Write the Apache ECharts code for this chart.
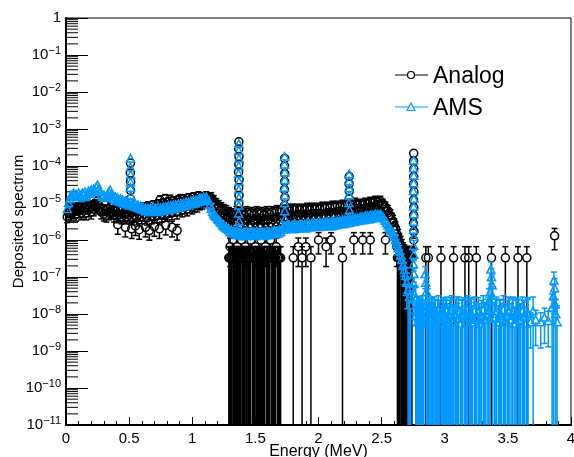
<!DOCTYPE html>
<html>
<head>
<meta charset="utf-8">
<title>Deposited spectrum</title>
<script src="https://cdn.jsdelivr.net/npm/echarts@6/dist/echarts.min.js"></script>
<style>
  html, body { margin: 0; padding: 0; background: #fff; }
  #chart { width: 574px; height: 457px; }
</style>
</head>
<body>
<div id="chart"></div>
<script>
// Bin centres (MeV) of the continuum part of both spectra
const energy = [
  0.01, 0.02, 0.03, 0.04, 0.05, 0.06, 0.07, 0.08, 0.09, 0.10,
  0.11, 0.12, 0.13, 0.14, 0.15, 0.16, 0.17, 0.18, 0.19, 0.20,
  0.21, 0.22, 0.23, 0.24, 0.25, 0.26, 0.27, 0.28, 0.29, 0.30,
  0.31, 0.32, 0.33, 0.34, 0.35, 0.36, 0.37, 0.38, 0.39, 0.40,
  0.41, 0.42, 0.43, 0.44, 0.45, 0.46, 0.47, 0.48, 0.49, 0.50,
  0.51, 0.52, 0.53, 0.54, 0.55, 0.56, 0.57, 0.58, 0.59, 0.60,
  0.61, 0.62, 0.63, 0.64, 0.65, 0.66, 0.67, 0.68, 0.69, 0.70,
  0.71, 0.72, 0.73, 0.74, 0.75, 0.76, 0.77, 0.78, 0.79, 0.80,
  0.81, 0.82, 0.83, 0.84, 0.85, 0.86, 0.87, 0.88, 0.89, 0.90,
  0.91, 0.92, 0.93, 0.94, 0.95, 0.96, 0.97, 0.98, 0.99, 1.00,
  1.01, 1.02, 1.03, 1.04, 1.05, 1.06, 1.07, 1.08, 1.09, 1.10,
  1.11, 1.12, 1.13, 1.14, 1.15, 1.16, 1.17, 1.18, 1.19, 1.20,
  1.21, 1.22, 1.23, 1.24, 1.25, 1.26, 1.27, 1.28, 1.29, 1.30,
  1.31, 1.32, 1.33, 1.34, 1.35, 1.36, 1.37, 1.38, 1.39, 1.40,
  1.41, 1.42, 1.43, 1.44, 1.45, 1.46, 1.47, 1.48, 1.49, 1.50,
  1.51, 1.52, 1.53, 1.54, 1.55, 1.56, 1.57, 1.58, 1.59, 1.60,
  1.61, 1.62, 1.63, 1.64, 1.65, 1.66, 1.67, 1.68, 1.69, 1.70,
  1.71, 1.72, 1.73, 1.74, 1.75, 1.76, 1.77, 1.78, 1.79, 1.80,
  1.81, 1.82, 1.83, 1.84, 1.85, 1.86, 1.87, 1.88, 1.89, 1.90,
  1.91, 1.92, 1.93, 1.94, 1.95, 1.96, 1.97, 1.98, 1.99, 2.00,
  2.01, 2.02, 2.03, 2.04, 2.05, 2.06, 2.07, 2.08, 2.09, 2.10,
  2.11, 2.12, 2.13, 2.14, 2.15, 2.16, 2.17, 2.18, 2.19, 2.20,
  2.21, 2.22, 2.23, 2.24, 2.25, 2.26, 2.27, 2.28, 2.29, 2.30,
  2.31, 2.32, 2.33, 2.34, 2.35, 2.36, 2.37, 2.38, 2.39, 2.40,
  2.41, 2.42, 2.43, 2.44, 2.45, 2.46, 2.47, 2.48, 2.49, 2.50,
  2.51, 2.52, 2.53, 2.54, 2.55, 2.56, 2.57, 2.58, 2.59, 2.60,
  2.61, 2.62, 2.63, 2.64, 2.65, 2.66, 2.67, 2.68, 2.69, 2.70,
  2.71, 2.72, 2.73
];

// Analog simulation: deposited spectrum per bin
const analogSpectrum = [
  4.2e-6, 5.4e-6, 6.5e-6, 5.0e-6, 7.3e-6, 5.7e-6, 6.9e-6, 5.0e-6, 7.8e-6, 6.1e-6,
  7.3e-6, 5.4e-6, 7.8e-6, 6.1e-6, 7.3e-6, 5.4e-6, 8.3e-6, 6.5e-6, 7.8e-6, 5.7e-6,
  8.8e-6, 6.9e-6, 9.4e-6, 7.8e-6, 1.13e-5, 8.8e-6, 7.3e-6, 5.7e-6, 6.9e-6, 5.0e-6,
  6.5e-6, 4.7e-6, 6.9e-6, 5.4e-6, 7.8e-6, 5.7e-6, 6.5e-6, 4.7e-6, 6.1e-6, 4.5e-6,
  6.5e-6, 4.7e-6, 6.1e-6, 4.2e-6, 6.5e-6, 4.7e-6, 5.7e-6, 4.2e-6, 6.5e-6, 4.7e-6,
  6.1e-6, 4.2e-6, 6.9e-6, 4.7e-6, 6.5e-6, 3.9e-6, 7.3e-6, 5.0e-6, 6.9e-6, 4.2e-6,
  7.8e-6, 5.0e-6, 7.3e-6, 3.9e-6, 8.3e-6, 5.4e-6, 7.3e-6, 4.2e-6, 8.8e-6, 5.4e-6,
  7.8e-6, 4.5e-6, 9.4e-6, 5.7e-6, 8.3e-6, 4.7e-6, 1.0e-5, 6.1e-6, 8.8e-6, 5.0e-6,
  1.06e-5, 6.5e-6, 9.4e-6, 5.4e-6, 1.13e-5, 6.9e-6, 1.0e-5, 5.7e-6, 1.2e-5, 7.3e-6,
  1.06e-5, 6.5e-6, 1.28e-5, 7.8e-6, 1.13e-5, 6.9e-6, 1.36e-5, 8.3e-6, 1.2e-5, 7.8e-6,
  1.45e-5, 8.8e-6, 1.28e-5, 8.8e-6, 1.55e-5, 1.0e-5, 1.45e-5, 1.06e-5, 1.45e-5, 1.2e-5,
  1.55e-5, 1.28e-5, 1.45e-5, 1.2e-5, 1.36e-5, 1.0e-5, 1.13e-5, 8.3e-6, 9.4e-6, 6.9e-6,
  8.3e-6, 6.1e-6, 7.3e-6, 5.4e-6, 6.5e-6, 4.7e-6, 6.1e-6, 4.2e-6, 5.4e-6, 3.7e-6,
  5.0e-6, 3.3e-6, 4.7e-6, 2.9e-6, 5.7e-6, 3.5e-6, 4.5e-6, 2.7e-6, 5.4e-6, 3.3e-6,
  4.7e-6, 2.9e-6, 5.7e-6, 3.5e-6, 5.0e-6, 2.7e-6, 5.4e-6, 3.3e-6, 4.7e-6, 2.9e-6,
  5.7e-6, 3.5e-6, 5.0e-6, 2.7e-6, 5.4e-6, 3.3e-6, 4.7e-6, 2.9e-6, 5.7e-6, 3.5e-6,
  5.0e-6, 2.9e-6, 5.7e-6, 3.5e-6, 5.4e-6, 3.1e-6, 6.1e-6, 3.7e-6, 5.7e-6, 3.3e-6,
  6.1e-6, 3.9e-6, 6.5e-6, 4.2e-6, 6.5e-6, 3.9e-6, 6.1e-6, 4.5e-6, 6.9e-6, 3.9e-6,
  6.5e-6, 4.2e-6, 6.9e-6, 4.5e-6, 6.5e-6, 3.9e-6, 6.9e-6, 4.5e-6, 6.5e-6, 4.2e-6,
  7.3e-6, 4.5e-6, 6.5e-6, 4.2e-6, 7.3e-6, 4.7e-6, 6.9e-6, 4.2e-6, 7.3e-6, 4.7e-6,
  6.9e-6, 4.5e-6, 7.8e-6, 4.7e-6, 7.3e-6, 4.5e-6, 7.8e-6, 5.0e-6, 7.3e-6, 4.7e-6,
  8.3e-6, 5.0e-6, 7.8e-6, 4.7e-6, 8.3e-6, 5.4e-6, 7.8e-6, 5.0e-6, 8.8e-6, 5.4e-6,
  8.3e-6, 5.7e-6, 8.8e-6, 5.4e-6, 9.4e-6, 6.1e-6, 8.8e-6, 5.7e-6, 1.0e-5, 6.5e-6,
  8.8e-6, 6.1e-6, 9.4e-6, 6.5e-6, 8.8e-6, 6.1e-6, 1.0e-5, 6.9e-6, 9.4e-6, 6.5e-6,
  1.06e-5, 7.3e-6, 1.0e-5, 6.9e-6, 1.13e-5, 7.8e-6, 1.06e-5, 8.3e-6, 1.13e-5, 8.8e-6,
  9.4e-6, 7.8e-6, 7.8e-6, 6.1e-6, 6.1e-6, 4.7e-6, 4.5e-6, 3.5e-6, 3.1e-6, 2.4e-6,
  2.0e-6, 1.45e-6, 1.2e-6, 8.8e-7, 6.9e-7, 5.4e-7, 4.2e-7, 3.7e-7, 3.3e-7, 3.3e-7,
  3.3e-7, 3.3e-7, 3.3e-7
];

// Relative statistical uncertainty of each analog bin
const analogRelErr = [
  0.30, 0.35, 0.30, 0.35, 0.30, 0.35, 0.30, 0.35, 0.30, 0.35,
  0.30, 0.35, 0.30, 0.35, 0.30, 0.35, 0.30, 0.35, 0.30, 0.35,
  0.30, 0.35, 0.30, 0.35, 0.30, 0.35, 0.30, 0.35, 0.30, 0.35,
  0.30, 0.35, 0.30, 0.35, 0.30, 0.35, 0.30, 0.35, 0.30, 0.35,
  0.30, 0.35, 0.30, 0.35, 0.30, 0.35, 0.30, 0.35, 0.30, 0.35,
  0.30, 0.35, 0.30, 0.35, 0.30, 0.35, 0.30, 0.35, 0.30, 0.35,
  0.30, 0.35, 0.30, 0.35, 0.30, 0.35, 0.30, 0.35, 0.30, 0.35,
  0.30, 0.35, 0.30, 0.35, 0.30, 0.35, 0.30, 0.35, 0.30, 0.35,
  0.30, 0.35, 0.30, 0.35, 0.30, 0.35, 0.30, 0.35, 0.30, 0.35,
  0.30, 0.35, 0.30, 0.35, 0.30, 0.35, 0.30, 0.35, 0.30, 0.35,
  0.30, 0.35, 0.30, 0.35, 0.30, 0.35, 0.30, 0.35, 0.30, 0.35,
  0.30, 0.35, 0.30, 0.40, 0.40, 0.40, 0.40, 0.40, 0.40, 0.40,
  0.40, 0.45, 0.40, 0.45, 0.40, 0.45, 0.40, 0.45, 0.40, 0.45,
  0.40, 0.45, 0.40, 0.45, 0.40, 0.45, 0.40, 0.45, 0.40, 0.45,
  0.40, 0.45, 0.40, 0.45, 0.40, 0.45, 0.40, 0.45, 0.40, 0.45,
  0.40, 0.45, 0.40, 0.45, 0.40, 0.45, 0.40, 0.45, 0.40, 0.45,
  0.40, 0.45, 0.40, 0.45, 0.40, 0.45, 0.40, 0.45, 0.40, 0.45,
  0.35, 0.40, 0.35, 0.40, 0.35, 0.40, 0.35, 0.40, 0.35, 0.40,
  0.35, 0.40, 0.35, 0.40, 0.35, 0.40, 0.35, 0.40, 0.35, 0.40,
  0.35, 0.40, 0.35, 0.40, 0.35, 0.40, 0.35, 0.40, 0.35, 0.40,
  0.35, 0.40, 0.35, 0.40, 0.35, 0.40, 0.35, 0.40, 0.35, 0.40,
  0.35, 0.40, 0.35, 0.40, 0.35, 0.40, 0.35, 0.40, 0.35, 0.40,
  0.35, 0.40, 0.35, 0.40, 0.35, 0.40, 0.35, 0.40, 0.35, 0.40,
  0.35, 0.40, 0.35, 0.40, 0.35, 0.40, 0.35, 0.40, 0.35, 0.40,
  0.35, 0.40, 0.35, 0.40, 0.35, 0.40, 0.35, 0.40, 0.35, 0.40,
  0.35, 0.40, 0.35, 0.40, 0.40, 0.45, 0.45, 0.50, 0.50, 0.55,
  0.55, 0.60, 0.60, 0.70, 0.80, 0.90, 1.00, 1.00, 1.00, 1.00,
  1.00, 1.00, 1.00
];

// AMS simulation: deposited spectrum per bin
const amsSpectrum = [
  6.9e-6, 1.0e-5, 1.28e-5, 1.64e-5, 1.45e-5, 1.86e-5, 1.55e-5, 1.75e-5, 1.45e-5, 1.86e-5,
  1.64e-5, 1.45e-5, 1.86e-5, 1.64e-5, 1.98e-5, 1.55e-5, 1.86e-5, 2.11e-5, 1.75e-5, 2.25e-5,
  1.98e-5, 2.39e-5, 2.11e-5, 2.71e-5, 3.06e-5, 2.39e-5, 1.98e-5, 1.64e-5, 1.45e-5, 1.64e-5,
  1.36e-5, 1.55e-5, 1.75e-5, 1.98e-5, 2.25e-5, 1.75e-5, 1.45e-5, 1.28e-5, 1.45e-5, 1.2e-5,
  1.36e-5, 1.13e-5, 1.28e-5, 1.06e-5, 1.2e-5, 1.0e-5, 1.13e-5, 9.4e-6, 1.06e-5, 9.4e-6,
  1.06e-5, 8.8e-6, 1.0e-5, 8.3e-6, 9.4e-6, 7.8e-6, 8.8e-6, 7.3e-6, 8.3e-6, 6.9e-6,
  7.8e-6, 6.5e-6, 7.3e-6, 6.1e-6, 7.3e-6, 6.1e-6, 7.3e-6, 6.5e-6, 7.8e-6, 6.1e-6,
  7.3e-6, 6.5e-6, 7.8e-6, 6.1e-6, 7.3e-6, 6.5e-6, 7.8e-6, 6.5e-6, 7.8e-6, 6.9e-6,
  8.3e-6, 6.9e-6, 8.3e-6, 7.3e-6, 8.8e-6, 7.3e-6, 8.8e-6, 7.8e-6, 9.4e-6, 7.8e-6,
  9.4e-6, 8.3e-6, 1.0e-5, 8.8e-6, 1.06e-5, 8.8e-6, 1.06e-5, 9.4e-6, 1.13e-5, 1.0e-5,
  1.2e-5, 1.0e-5, 1.2e-5, 1.06e-5, 1.28e-5, 1.13e-5, 1.36e-5, 1.2e-5, 1.45e-5, 1.28e-5,
  1.45e-5, 1.28e-5, 1.13e-5, 8.8e-6, 6.9e-6, 5.7e-6, 5.0e-6, 4.5e-6, 4.2e-6, 3.7e-6,
  3.5e-6, 3.1e-6, 2.9e-6, 2.5e-6, 2.4e-6, 2.2e-6, 2.1e-6, 2.0e-6, 1.86e-6, 1.64e-6,
  1.86e-6, 1.55e-6, 1.75e-6, 1.45e-6, 1.75e-6, 1.45e-6, 1.64e-6, 1.36e-6, 1.64e-6, 1.36e-6,
  1.64e-6, 1.45e-6, 1.75e-6, 1.36e-6, 1.64e-6, 1.45e-6, 1.75e-6, 1.36e-6, 1.64e-6, 1.45e-6,
  1.75e-6, 1.36e-6, 1.64e-6, 1.45e-6, 1.75e-6, 1.45e-6, 1.64e-6, 1.36e-6, 1.75e-6, 1.45e-6,
  1.64e-6, 1.45e-6, 1.75e-6, 1.55e-6, 1.86e-6, 1.55e-6, 1.75e-6, 1.55e-6, 1.86e-6, 1.64e-6,
  2.0e-6, 2.1e-6, 2.4e-6, 2.1e-6, 2.5e-6, 2.1e-6, 2.5e-6, 2.1e-6, 2.5e-6, 2.2e-6,
  2.7e-6, 2.1e-6, 2.5e-6, 2.2e-6, 2.7e-6, 2.2e-6, 2.7e-6, 2.2e-6, 2.7e-6, 2.4e-6,
  2.9e-6, 2.2e-6, 2.7e-6, 2.4e-6, 2.9e-6, 2.4e-6, 2.9e-6, 2.4e-6, 2.9e-6, 2.5e-6,
  3.1e-6, 2.4e-6, 2.9e-6, 2.5e-6, 3.1e-6, 2.5e-6, 3.1e-6, 2.5e-6, 3.1e-6, 2.7e-6,
  3.3e-6, 2.5e-6, 3.1e-6, 2.7e-6, 3.3e-6, 2.7e-6, 3.3e-6, 2.9e-6, 3.5e-6, 2.9e-6,
  3.5e-6, 2.9e-6, 3.5e-6, 3.1e-6, 3.7e-6, 3.1e-6, 3.7e-6, 3.3e-6, 3.9e-6, 3.3e-6,
  3.9e-6, 3.5e-6, 4.2e-6, 3.5e-6, 4.2e-6, 3.7e-6, 4.5e-6, 3.7e-6, 4.5e-6, 3.9e-6,
  4.7e-6, 3.9e-6, 4.7e-6, 4.2e-6, 5.0e-6, 4.2e-6, 5.0e-6, 4.5e-6, 5.0e-6, 4.5e-6,
  4.2e-6, 3.7e-6, 3.3e-6, 2.9e-6, 2.5e-6, 2.2e-6, 2.0e-6, 1.75e-6, 1.45e-6, 1.2e-6,
  1.0e-6, 7.6e-7, 6.1e-7, 5.0e-7, 3.9e-7, 2.9e-7, 2.1e-7, 1.55e-7, 1.06e-7, 7.0e-8,
  4.5e-8, 2.9e-8, 1.75e-8
];

// Relative statistical uncertainty of each AMS bin
const amsRelErr = [
  0.20, 0.25, 0.20, 0.25, 0.20, 0.25, 0.20, 0.25, 0.20, 0.25,
  0.20, 0.25, 0.20, 0.25, 0.20, 0.25, 0.20, 0.25, 0.20, 0.25,
  0.20, 0.25, 0.20, 0.25, 0.20, 0.25, 0.20, 0.25, 0.20, 0.25,
  0.20, 0.25, 0.20, 0.25, 0.20, 0.25, 0.20, 0.25, 0.20, 0.25,
  0.20, 0.25, 0.20, 0.25, 0.20, 0.25, 0.20, 0.25, 0.20, 0.25,
  0.20, 0.25, 0.20, 0.25, 0.20, 0.25, 0.20, 0.25, 0.20, 0.25,
  0.20, 0.25, 0.20, 0.25, 0.20, 0.25, 0.20, 0.25, 0.20, 0.25,
  0.20, 0.25, 0.20, 0.25, 0.20, 0.25, 0.20, 0.25, 0.20, 0.25,
  0.20, 0.25, 0.20, 0.25, 0.20, 0.25, 0.20, 0.25, 0.20, 0.25,
  0.20, 0.25, 0.20, 0.25, 0.20, 0.25, 0.20, 0.25, 0.20, 0.25,
  0.20, 0.25, 0.20, 0.25, 0.20, 0.25, 0.20, 0.25, 0.20, 0.25,
  0.20, 0.25, 0.20, 0.25, 0.20, 0.25, 0.20, 0.25, 0.20, 0.25,
  0.20, 0.25, 0.20, 0.25, 0.20, 0.25, 0.20, 0.25, 0.20, 0.25,
  0.20, 0.25, 0.20, 0.25, 0.20, 0.25, 0.20, 0.25, 0.20, 0.25,
  0.20, 0.25, 0.20, 0.25, 0.20, 0.25, 0.20, 0.25, 0.20, 0.25,
  0.20, 0.25, 0.20, 0.25, 0.20, 0.25, 0.20, 0.25, 0.20, 0.25,
  0.20, 0.25, 0.20, 0.25, 0.20, 0.25, 0.20, 0.25, 0.20, 0.25,
  0.20, 0.25, 0.20, 0.25, 0.20, 0.25, 0.20, 0.25, 0.20, 0.25,
  0.20, 0.25, 0.20, 0.25, 0.20, 0.25, 0.20, 0.25, 0.20, 0.25,
  0.20, 0.25, 0.20, 0.25, 0.20, 0.25, 0.20, 0.25, 0.20, 0.25,
  0.20, 0.25, 0.20, 0.25, 0.20, 0.25, 0.20, 0.25, 0.20, 0.25,
  0.20, 0.25, 0.20, 0.25, 0.20, 0.25, 0.20, 0.25, 0.20, 0.25,
  0.20, 0.25, 0.20, 0.25, 0.20, 0.25, 0.20, 0.25, 0.20, 0.25,
  0.20, 0.25, 0.20, 0.25, 0.20, 0.25, 0.20, 0.25, 0.20, 0.25,
  0.20, 0.25, 0.20, 0.25, 0.20, 0.25, 0.20, 0.25, 0.20, 0.25,
  0.20, 0.25, 0.20, 0.25, 0.20, 0.25, 0.25, 0.25, 0.30, 0.30,
  0.30, 0.35, 0.35, 0.40, 0.40, 0.45, 0.50, 0.60, 0.70, 0.80,
  1.00, 1.20, 1.40
];

// Sparsely populated analog bins: [energy, value, relative error]
const analogSparse = [
  [0.41, 2.6e-6, 0.45], [0.47, 2.2e-6, 0.45], [0.52, 2.0e-6, 0.45], [0.55, 2.4e-6, 0.45],
  [0.58, 1.9e-6, 0.45], [0.63, 2.2e-6, 0.45], [0.66, 1.8e-6, 0.45], [0.70, 2.3e-6, 0.45],
  [0.74, 2.0e-6, 0.45], [0.79, 2.5e-6, 0.45], [0.84, 2.2e-6, 0.45], [0.88, 1.8e-6, 0.45],
  [0.745, 1.2e-5, 0.3], [0.785, 1.3e-5, 0.3], [0.825, 1.25e-5, 0.3], [0.905, 1.3e-5, 0.3],
  [1.29, 3.3e-7, 1], [1.295, 3.3e-7, 1], [1.30, 6.6e-7, 0.71], [1.305, 3.3e-7, 1],
  [1.31, 3.3e-7, 1], [1.315, 3.3e-7, 1], [1.32, 1.0e-6, 0.58], [1.325, 3.3e-7, 1],
  [1.33, 3.3e-7, 1], [1.335, 3.3e-7, 1], [1.345, 3.3e-7, 1], [1.35, 3.3e-7, 1],
  [1.355, 6.6e-7, 0.71], [1.36, 3.3e-7, 1], [1.365, 3.3e-7, 1], [1.375, 3.3e-7, 1],
  [1.38, 3.3e-7, 1], [1.385, 3.3e-7, 1], [1.39, 1.0e-6, 0.58], [1.395, 3.3e-7, 1],
  [1.40, 3.3e-7, 1], [1.405, 3.3e-7, 1], [1.415, 3.3e-7, 1], [1.42, 6.6e-7, 0.71],
  [1.425, 3.3e-7, 1], [1.43, 3.3e-7, 1], [1.435, 3.3e-7, 1], [1.445, 3.3e-7, 1],
  [1.455, 3.3e-7, 1], [1.46, 3.3e-7, 1], [1.465, 1.0e-6, 0.58], [1.475, 3.3e-7, 1],
  [1.48, 3.3e-7, 1], [1.485, 3.3e-7, 1], [1.49, 3.3e-7, 1], [1.495, 3.3e-7, 1],
  [1.50, 6.6e-7, 0.71], [1.505, 3.3e-7, 1], [1.51, 3.3e-7, 1], [1.515, 3.3e-7, 1],
  [1.525, 3.3e-7, 1], [1.53, 3.3e-7, 1], [1.535, 3.3e-7, 1], [1.54, 3.3e-7, 1],
  [1.545, 1.0e-6, 0.58], [1.55, 3.3e-7, 1], [1.555, 3.3e-7, 1], [1.565, 3.3e-7, 1],
  [1.57, 3.3e-7, 1], [1.575, 3.3e-7, 1], [1.58, 6.6e-7, 0.71], [1.59, 3.3e-7, 1],
  [1.595, 3.3e-7, 1], [1.60, 3.3e-7, 1], [1.605, 3.3e-7, 1], [1.61, 3.3e-7, 1],
  [1.615, 3.3e-7, 1], [1.62, 1.0e-6, 0.58], [1.63, 3.3e-7, 1], [1.635, 3.3e-7, 1],
  [1.645, 3.3e-7, 1], [1.65, 3.3e-7, 1], [1.655, 3.3e-7, 1], [1.66, 3.3e-7, 1],
  [1.665, 6.6e-7, 0.71], [1.675, 3.3e-7, 1], [1.685, 3.3e-7, 1], [1.69, 3.3e-7, 1],
  [1.70, 3.3e-7, 1],
  [1.80, 3.3e-7, 1], [1.84, 6.6e-7, 0.71], [1.87, 3.3e-7, 1], [1.90, 6.6e-7, 0.71],
  [1.94, 3.3e-7, 1], [2.00, 1.0e-6, 0.58], [2.06, 6.6e-7, 0.71], [2.10, 1.0e-6, 0.58],
  [2.19, 3.3e-7, 1], [2.28, 1.0e-6, 0.58], [2.35, 1.0e-6, 0.58], [2.41, 1.0e-6, 0.58],
  [2.53, 1.0e-6, 0.58],
  [2.62, 6.6e-7, 0.71], [2.625, 3.3e-7, 1], [2.635, 3.3e-7, 1], [2.64, 3.3e-7, 1],
  [2.645, 3.3e-7, 1], [2.655, 3.3e-7, 1], [2.66, 3.3e-7, 1], [2.665, 3.3e-7, 1],
  [2.675, 3.3e-7, 1], [2.685, 3.3e-7, 1], [2.695, 3.3e-7, 1], [2.705, 3.3e-7, 1],
  [2.715, 3.3e-7, 1], [2.725, 3.3e-7, 1], [2.735, 3.3e-7, 1], [2.74, 3.3e-7, 1],
  [2.85, 3.3e-7, 1], [2.87, 3.3e-7, 1], [2.97, 3.3e-7, 1], [3.07, 3.3e-7, 1],
  [3.16, 3.3e-7, 1], [3.19, 3.3e-7, 1], [3.25, 3.3e-7, 1], [3.37, 3.3e-7, 1],
  [3.48, 3.3e-7, 1], [3.58, 3.3e-7, 1], [3.65, 3.3e-7, 1], [3.87, 1.3e-6, 0.58]
];

// Analog full-energy and escape peak bins: [energy, value, relative error]
const analogPeaks = [
  [0.511, 1.2e-4, 0.15], [0.510, 6.5e-5, 0.15], [0.512, 3.8e-5, 0.15], [0.511, 2.2e-5, 0.15], [0.510, 1.3e-5, 0.2],
  [1.369, 4.5e-4, 0.08], [1.368, 2.9e-4, 0.1], [1.370, 1.8e-4, 0.1], [1.369, 1.1e-4, 0.12], [1.367, 6.8e-5, 0.12],
  [1.371, 4.2e-5, 0.15], [1.368, 2.6e-5, 0.15], [1.370, 1.6e-5, 0.2], [1.369, 9.5e-6, 0.25], [1.367, 5.8e-6, 0.3],
  [1.732, 1.6e-4, 0.1], [1.731, 1.0e-4, 0.12], [1.733, 6.2e-5, 0.12], [1.732, 3.8e-5, 0.15], [1.730, 2.3e-5, 0.15],
  [1.734, 1.4e-5, 0.2], [1.731, 8.5e-6, 0.25],
  [2.243, 5.2e-5, 0.15], [2.242, 3.3e-5, 0.15], [2.244, 2.1e-5, 0.2], [2.243, 1.3e-5, 0.2], [2.241, 8.5e-6, 0.25],
  [2.754, 2.2e-4, 0.1], [2.753, 1.35e-4, 0.1], [2.755, 8.4e-5, 0.12], [2.754, 5.2e-5, 0.12], [2.752, 3.2e-5, 0.15],
  [2.756, 2.0e-5, 0.15], [2.753, 1.2e-5, 0.2], [2.755, 7.5e-6, 0.2], [2.754, 4.6e-6, 0.25], [2.752, 2.8e-6, 0.3],
  [2.756, 1.7e-6, 0.35], [2.754, 1.0e-6, 0.4]
];

// AMS full-energy and escape peak bins: [energy, value, relative error]
const amsPeaks = [
  [0.511, 1.6e-4, 0.06], [0.510, 9.3e-5, 0.06], [0.512, 5.8e-5, 0.08], [0.511, 3.6e-5, 0.08], [0.510, 2.6e-5, 0.1],
  [0.512, 1.6e-5, 0.1],
  [1.369, 4.0e-4, 0.05], [1.368, 2.6e-4, 0.05], [1.370, 1.6e-4, 0.06], [1.369, 1.0e-4, 0.06], [1.367, 6.2e-5, 0.08],
  [1.371, 3.8e-5, 0.08], [1.368, 2.3e-5, 0.1], [1.370, 1.4e-5, 0.1], [1.369, 8.5e-6, 0.12], [1.367, 5.2e-6, 0.12],
  [1.371, 3.2e-6, 0.15], [1.368, 2.2e-6, 0.15],
  [1.732, 1.8e-4, 0.06], [1.731, 1.1e-4, 0.06], [1.733, 6.8e-5, 0.08], [1.732, 4.2e-5, 0.08], [1.730, 2.6e-5, 0.1],
  [1.734, 1.6e-5, 0.1], [1.731, 9.8e-6, 0.12], [1.733, 6.0e-6, 0.12], [1.732, 3.7e-6, 0.15],
  [2.243, 6.0e-5, 0.08], [2.242, 3.9e-5, 0.08], [2.244, 2.5e-5, 0.1], [2.243, 1.6e-5, 0.1], [2.241, 1.0e-5, 0.12],
  [2.245, 6.5e-6, 0.12], [2.242, 4.2e-6, 0.15],
  [2.754, 1.4e-4, 0.06], [2.753, 8.8e-5, 0.06], [2.755, 5.5e-5, 0.08], [2.754, 3.4e-5, 0.08], [2.752, 2.1e-5, 0.1],
  [2.756, 1.3e-5, 0.1], [2.753, 8.0e-6, 0.12], [2.755, 5.0e-6, 0.12], [2.754, 3.1e-6, 0.15], [2.752, 1.9e-6, 0.15],
  [2.756, 1.2e-6, 0.2], [2.754, 7.0e-7, 0.25], [2.755, 4.0e-7, 0.3], [2.753, 2.2e-7, 0.35], [2.756, 1.2e-7, 0.4],
  [2.754, 6.5e-8, 0.5], [2.757, 3.5e-8, 0.7]
];

// AMS bins above the 2.754 MeV line: [energy, value, relative error]
const amsTail = [
  [2.77, 2.5e-8, 1.2], [2.775, 9e-9, 1.6], [2.78, 1.2e-8, 1.5], [2.785, 6e-9, 1.8], [2.79, 8e-9, 1.6],
  [2.795, 1.2e-8, 1.4], [2.80, 1.1e-8, 1.5], [2.805, 7e-9, 1.7], [2.81, 6e-9, 1.8], [2.815, 1.0e-8, 1.5],
  [2.82, 9e-9, 1.6], [2.825, 1.3e-8, 1.4], [2.83, 5.5e-9, 1.8], [2.835, 8e-9, 1.6],
  [2.845, 1.2e-7, 0.6], [2.85, 7e-8, 0.8], [2.855, 4e-8, 1.0], [2.865, 2.2e-8, 1.2], [2.875, 1.0e-8, 1.5],
  [2.885, 8e-9, 1.6], [2.89, 6.5e-9, 1.7], [2.895, 1.1e-8, 1.5], [2.90, 1.2e-8, 1.4], [2.905, 6e-9, 1.8],
  [2.91, 7e-9, 1.7], [2.915, 1.2e-8, 1.4], [2.925, 1.0e-8, 1.5], [2.935, 5.5e-9, 1.8], [2.945, 9e-9, 1.6],
  [2.95, 1.3e-8, 1.4], [2.96, 8e-9, 1.6], [2.975, 6e-9, 1.8], [2.985, 1.0e-8, 1.5], [2.99, 1.1e-8, 1.5],
  [3.00, 7e-9, 1.7], [3.005, 9e-9, 1.6], [3.015, 1.2e-8, 1.4], [3.025, 7e-9, 1.7], [3.03, 5.5e-9, 1.8],
  [3.04, 9e-9, 1.6], [3.045, 1.1e-8, 1.5], [3.055, 1.3e-8, 1.4], [3.065, 6e-9, 1.8], [3.07, 6.5e-9, 1.7],
  [3.085, 1.0e-8, 1.5], [3.095, 1.2e-8, 1.4], [3.10, 7.5e-9, 1.6], [3.11, 1.2e-8, 1.4], [3.125, 5.5e-9, 1.8],
  [3.135, 1.0e-8, 1.5], [3.14, 9e-9, 1.6], [3.155, 1.1e-8, 1.5], [3.165, 6e-9, 1.8], [3.175, 9e-9, 1.6],
  [3.18, 1.3e-8, 1.4], [3.195, 8e-9, 1.6], [3.205, 1.1e-8, 1.5], [3.21, 1.0e-8, 1.5], [3.22, 6e-9, 1.8],
  [3.235, 1.2e-8, 1.4], [3.245, 8e-9, 1.6], [3.25, 7e-9, 1.7], [3.265, 1.1e-8, 1.5], [3.275, 7e-9, 1.7],
  [3.28, 5.5e-9, 1.8], [3.29, 9e-9, 1.6], [3.305, 1.3e-8, 1.4], [3.315, 8e-9, 1.6], [3.32, 7e-9, 1.7],
  [3.335, 1.0e-8, 1.5], [3.345, 1.2e-8, 1.4], [3.35, 2.2e-8, 1.2],
  [3.36, 4e-8, 1.0], [3.365, 1.6e-7, 0.6], [3.37, 1.0e-7, 0.7], [3.375, 6e-8, 0.9], [3.38, 2.5e-8, 1.2],
  [3.395, 8e-9, 1.6], [3.405, 1.0e-8, 1.5], [3.41, 1.2e-8, 1.4], [3.425, 6e-9, 1.8], [3.435, 9e-9, 1.6],
  [3.44, 1.0e-8, 1.5], [3.45, 7.5e-9, 1.6], [3.465, 1.3e-8, 1.4], [3.475, 7e-9, 1.7], [3.48, 6e-9, 1.8],
  [3.495, 9e-9, 1.6], [3.505, 1.2e-8, 1.4], [3.51, 1.1e-8, 1.5], [3.525, 7e-9, 1.7], [3.535, 1.0e-8, 1.5],
  [3.54, 1.2e-8, 1.4], [3.555, 5.5e-9, 1.8], [3.565, 1.1e-8, 1.5], [3.57, 9e-9, 1.6], [3.585, 1.0e-8, 1.5],
  [3.595, 7e-9, 1.7], [3.60, 6.5e-9, 1.7], [3.615, 1.2e-8, 1.4], [3.625, 9e-9, 1.6], [3.63, 8e-9, 1.6],
  [3.645, 5.5e-9, 1.8], [3.655, 1.1e-8, 1.5], [3.66, 1.0e-8, 1.5],
  [3.68, 6e-9, 0.8], [3.70, 1.2e-8, 1.4], [3.72, 7e-9, 0.8], [3.76, 6e-9, 0.8], [3.79, 8e-9, 0.8],
  [3.82, 6.5e-9, 0.8],
  [3.85, 1.5e-8, 1.3], [3.86, 3e-8, 1.0], [3.865, 8e-8, 0.7], [3.87, 5e-8, 0.8], [3.875, 1.8e-8, 1.2],
  [3.88, 1.0e-8, 1.5], [3.89, 6e-9, 1.8]
];

// Axis ranges
const energyRange = [0, 4];
const spectrumRange = [1e-11, 1];

const FONT = "'Liberation Sans', Arial, Helvetica, sans-serif";
const BLACK = '#000000';
const BLUE = '#0099ff';
const Y_MIN = spectrumRange[0];
const STROKE = 1.5;

const analogPoints = energy
  .map((e, i) => [e, analogSpectrum[i], analogRelErr[i]])
  .concat(analogSparse, analogPeaks);
const amsPoints = energy
  .map((e, i) => [e, amsSpectrum[i], amsRelErr[i]])
  .concat(amsTail, amsPeaks);

// Log-axis minor ticks (2..9 x 10^n) on the left edge
const minorTickValues = [];
for (let n = -11; n < 0; n++) {
  for (let k = 2; k <= 9; k++) minorTickValues.push([0, k * Math.pow(10, n)]);
}

// One bin: hollow marker with a vertical error bar and end caps
function binRenderer(marker, color) {
  return function (params, api) {
    const x = api.value(0);
    const y = api.value(1);
    const rel = api.value(2);
    const c = api.coord([x, y]);
    const top = api.coord([x, y * (1 + rel)]);
    const lowVal = y * (1 - rel);
    const bottom = api.coord([x, lowVal > Y_MIN ? lowVal : Y_MIN]);
    const r = 4;
    const cap = 3;
    const line = { stroke: color, lineWidth: STROKE };
    const children = [];
    if (top[1] < c[1] - r) {
      children.push({ type: 'line', shape: { x1: c[0], y1: top[1], x2: c[0], y2: c[1] - r }, style: line });
      children.push({ type: 'line', shape: { x1: c[0] - cap, y1: top[1], x2: c[0] + cap, y2: top[1] }, style: line });
    }
    if (bottom[1] > c[1] + r) {
      children.push({ type: 'line', shape: { x1: c[0], y1: c[1] + r, x2: c[0], y2: bottom[1] }, style: line });
      if (lowVal > Y_MIN) {
        children.push({ type: 'line', shape: { x1: c[0] - cap, y1: bottom[1], x2: c[0] + cap, y2: bottom[1] }, style: line });
      }
    }
    if (marker === 'circle') {
      children.push({ type: 'circle', shape: { cx: c[0], cy: c[1], r: r },
        style: { stroke: color, fill: 'none', lineWidth: STROKE } });
    } else {
      children.push({ type: 'polygon',
        shape: { points: [[c[0] - 4, c[1] + 3.5], [c[0] + 4, c[1] + 3.5], [c[0], c[1] - 4]] },
        style: { stroke: color, fill: 'none', lineWidth: STROKE } });
    }
    return { type: 'group', children: children };
  };
}

function minorTickRenderer(params, api) {
  const p = api.coord([api.value(0), api.value(1)]);
  return { type: 'line', shape: { x1: p[0], y1: p[1], x2: p[0] + 12, y2: p[1] },
    style: { stroke: BLACK, lineWidth: 1 } };
}

const chart = echarts.init(document.getElementById('chart'), null, { renderer: 'canvas' });

chart.setOption({
  animation: false,
  backgroundColor: '#ffffff',
  textStyle: { fontFamily: FONT },
  grid: {
    left: 66, right: 3, top: 18, bottom: 32,
    show: true, borderColor: BLACK, borderWidth: 1,
    containLabel: false, outerBoundsMode: 'none'
  },
  legend: {
    data: ['Analog', 'AMS'],
    orient: 'vertical',
    left: 391, top: 60,
    itemWidth: 32, itemHeight: 14, itemGap: 8,
    itemStyle: { opacity: 0 },
    textStyle: { fontFamily: FONT, fontSize: 23, lineHeight: 24, color: BLACK },
    selectedMode: false
  },
  graphic: [
    { type: 'line', shape: { x1: 395, y1: 75, x2: 428, y2: 75 }, style: { stroke: BLACK, lineWidth: 1 }, z: 10 },
    { type: 'circle', shape: { cx: 411, cy: 75, r: 3.5 }, style: { stroke: BLACK, fill: '#fff', lineWidth: 1.2 }, z: 11 },
    { type: 'line', shape: { x1: 395, y1: 107, x2: 428, y2: 107 }, style: { stroke: BLUE, lineWidth: 1 }, z: 10 },
    { type: 'polygon', shape: { points: [[407, 110.5], [415, 110.5], [411, 103]] },
      style: { stroke: BLUE, fill: '#fff', lineWidth: 1.2 }, z: 11 }
  ],
  xAxis: {
    type: 'value',
    min: energyRange[0], max: energyRange[1], interval: 0.5,
    name: 'Energy (MeV)', nameLocation: 'middle', nameGap: 19, nameMoveOverlap: false,
    nameTextStyle: { fontFamily: FONT, fontSize: 16, color: BLACK },
    axisLine: { show: true, onZero: false, lineStyle: { color: BLACK, width: 2 } },
    axisTick: { show: true, inside: true, length: 8, lineStyle: { color: BLACK, width: 1 } },
    minorTick: { show: true, splitNumber: 5, length: 4, lineStyle: { color: BLACK, width: 1 } },
    splitLine: { show: false },
    axisLabel: { fontFamily: FONT, fontSize: 15, color: BLACK, margin: 6,
      formatter: (v) => String(v) }
  },
  yAxis: {
    type: 'log', logBase: 10,
    min: spectrumRange[0], max: spectrumRange[1], interval: 1, splitNumber: 11,
    name: 'Deposited spectrum', nameLocation: 'middle', nameGap: 40, nameRotate: 90,
    nameMoveOverlap: false,
    nameTextStyle: { fontFamily: FONT, fontSize: 15, color: BLACK },
    axisLine: { show: true, onZero: false, lineStyle: { color: BLACK, width: 2 } },
    axisTick: { show: true, inside: true, length: 22, lineStyle: { color: BLACK, width: 1 } },
    minorTick: { show: false },
    splitLine: { show: false },
    axisLabel: {
      margin: 5, color: BLACK,
      formatter: function (v) {
        const n = Math.round(Math.log10(v));
        if (n === 0) return '{b|1}';
        return '{b|10}{s|\u2212' + (-n) + '}';
      },
      rich: {
        b: { fontFamily: FONT, fontSize: 15, lineHeight: 20, color: BLACK },
        s: { fontFamily: FONT, fontSize: 11, lineHeight: 12, verticalAlign: 'top', color: BLACK }
      }
    }
  },
  series: [
    {
      type: 'custom', name: 'minor ticks', silent: true, z: 1,
      renderItem: minorTickRenderer, data: minorTickValues
    },
    {
      type: 'custom', name: 'Analog', z: 2, color: BLACK,
      renderItem: binRenderer('circle', BLACK), data: analogPoints
    },
    {
      type: 'custom', name: 'AMS', z: 3, color: BLUE,
      renderItem: binRenderer('triangle', BLUE), data: amsPoints
    }
  ]
});
</script>
</body>
</html>
